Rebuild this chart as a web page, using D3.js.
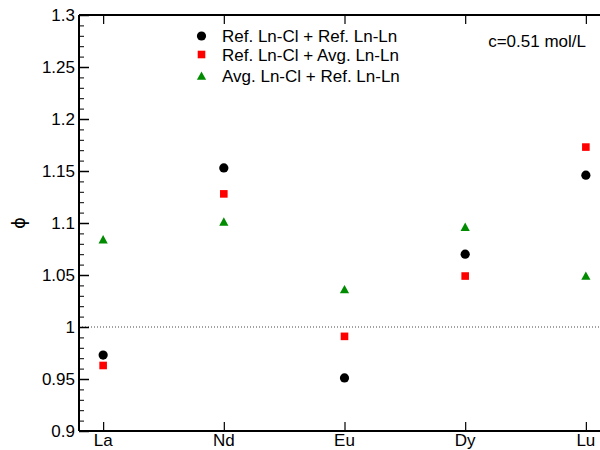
<!DOCTYPE html>
<html>
<head>
<meta charset="utf-8">
<script src="https://cdn.jsdelivr.net/npm/d3@7"></script>
<style>
  html, body { margin: 0; padding: 0; background: #fff; }
  svg { display: block; font-family: "Liberation Sans", Arial, Helvetica, sans-serif; }
</style>
</head>
<body>
<svg id="chart" width="600" height="450"></svg>
<script>
// Lanthanide categories and osmotic coefficient phi for each parameter set
const categories = ["La", "Nd", "Eu", "Dy", "Lu"];
const refClRefLn = [0.973, 1.153, 0.951, 1.070, 1.146];
const refClAvgLn = [0.963, 1.128, 0.991, 1.049, 1.173];
const avgClRefLn = [1.084, 1.101, 1.036, 1.096, 1.049];
const seriesNames = ["Ref. Ln-Cl + Ref. Ln-Ln", "Ref. Ln-Cl + Avg. Ln-Ln", "Avg. Ln-Cl + Ref. Ln-Ln"];
const yTicks = [0.9, 0.95, 1, 1.05, 1.1, 1.15, 1.2, 1.25, 1.3];
const concentrationLabel = "c=0.51 mol/L";
const yLabel = "\u03d5";

const svg = d3.select("#chart");
const plotLeft = 79, plotTop = 15, plotBottom = 431, plotRight = 610;
const fontSize = 17;

const x = d3.scaleLinear().domain([0.8, 5.2]).range([plotLeft, plotRight]);
const y = d3.scaleLinear().domain([0.9, 1.3]).range([plotBottom, plotTop]);

const series = [
  { name: seriesNames[0], values: refClRefLn, shape: "circle", color: "#000000" },
  { name: seriesNames[1], values: refClAvgLn, shape: "square", color: "#ff0000" },
  { name: seriesNames[2], values: avgClRefLn, shape: "triangle", color: "#008b00" }
];

function marker(sel, shape, color) {
  if (shape === "circle") {
    sel.append("circle").attr("r", 4.6).attr("fill", color);
  } else if (shape === "square") {
    sel.append("rect").attr("x", -3.8).attr("y", -3.8).attr("width", 7.6).attr("height", 7.6).attr("fill", color);
  } else {
    sel.append("path").attr("d", "M0,-4.6L4.6,3.8L-4.6,3.8Z").attr("fill", color);
  }
}

// reference line at phi = 1
svg.append("line")
  .attr("x1", plotLeft).attr("x2", plotRight)
  .attr("y1", y(1)).attr("y2", y(1))
  .attr("stroke", "#444").attr("stroke-width", 1)
  .attr("stroke-dasharray", "1,2");

// left axis: major ticks with labels, minor ticks every 0.01
const minor = d3.range(90, 131).map(v => v / 100).filter(v => Math.round(v * 100) % 5 !== 0);
svg.append("g").attr("transform", `translate(${plotLeft},0)`)
  .call(d3.axisRight(y).tickValues(minor).tickSize(5).tickFormat(""))
  .call(g => g.select(".domain").remove())
  .call(g => g.selectAll("line").attr("stroke", "#000").attr("stroke-width", 1));
svg.append("g").attr("transform", `translate(${plotLeft},0)`)
  .call(d3.axisRight(y).tickValues(yTicks).tickSize(10).tickFormat(""))
  .call(g => g.select(".domain").remove())
  .call(g => g.selectAll("line").attr("stroke", "#000").attr("stroke-width", 1.5));
svg.append("g").selectAll("text").data(yTicks).join("text")
  .attr("x", plotLeft - 4).attr("y", d => y(d))
  .attr("dy", "0.36em")
  .attr("text-anchor", "end")
  .attr("font-size", fontSize)
  .text(d => String(+d.toFixed(2)));

// bottom and top axes with category ticks
const catIdx = categories.map((c, i) => i + 1);
svg.append("g").attr("transform", `translate(0,${plotBottom})`)
  .call(d3.axisTop(x).tickValues(catIdx).tickSize(9).tickFormat(""))
  .call(g => g.select(".domain").remove())
  .call(g => g.selectAll("line").attr("stroke", "#000").attr("stroke-width", 1.2));
svg.append("g").attr("transform", `translate(0,${plotTop})`)
  .call(d3.axisBottom(x).tickValues(catIdx).tickSize(9).tickFormat(""))
  .call(g => g.select(".domain").remove())
  .call(g => g.selectAll("line").attr("stroke", "#000").attr("stroke-width", 1.2));
svg.append("g").selectAll("text").data(categories).join("text")
  .attr("x", (d, i) => x(i + 1)).attr("y", 446)
  .attr("text-anchor", "middle")
  .attr("font-size", fontSize)
  .text(d => d);

// frame lines
svg.append("line").attr("x1", plotLeft).attr("x2", plotLeft).attr("y1", plotTop).attr("y2", plotBottom)
  .attr("stroke", "#000").attr("stroke-width", 2);
svg.append("line").attr("x1", plotLeft).attr("x2", plotRight).attr("y1", plotBottom).attr("y2", plotBottom)
  .attr("stroke", "#000").attr("stroke-width", 2);
svg.append("line").attr("x1", plotLeft).attr("x2", plotRight).attr("y1", plotTop).attr("y2", plotTop)
  .attr("stroke", "#000").attr("stroke-width", 2);

// data points
series.forEach(s => {
  s.values.forEach((v, i) => {
    const g = svg.append("g").attr("transform", `translate(${x(i + 1)},${y(v)})`);
    marker(g, s.shape, s.color);
  });
});

// legend
const legendRows = [36, 54.5, 76];
series.forEach((s, i) => {
  const g = svg.append("g").attr("transform", `translate(201.5,${legendRows[i]})`);
  marker(g, s.shape, s.color);
  svg.append("text")
    .attr("x", 222).attr("y", legendRows[i])
    .attr("dy", "0.36em")
    .attr("font-size", fontSize)
    .text(s.name);
});

// concentration annotation
svg.append("text")
  .attr("x", 586).attr("y", 47)
  .attr("text-anchor", "end")
  .attr("font-size", fontSize)
  .text(concentrationLabel);

// y-axis title
svg.append("text")
  .attr("transform", `translate(19,223) rotate(-90)`)
  .attr("text-anchor", "middle")
  .attr("dy", "0.35em")
  .attr("font-family", "DejaVu Sans, sans-serif")
  .attr("font-size", 18)
  .text(yLabel);
</script>
</body>
</html>
